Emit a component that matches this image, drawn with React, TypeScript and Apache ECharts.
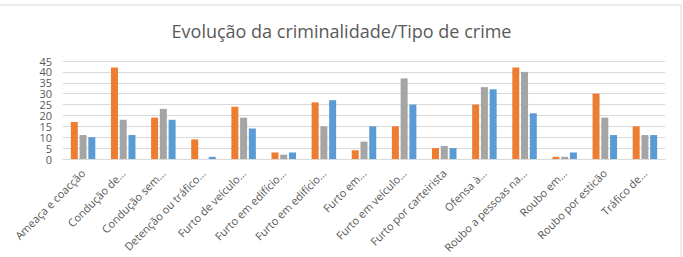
import React, { useEffect, useRef } from "react";
import * as echarts from "echarts";

const categories = [
  "Ameaça e coacção",
  "Condução de...",
  "Condução sem...",
  "Detenção ou tráfico...",
  "Furto de veículo...",
  "Furto em edifício...",
  "Furto em edifício...",
  "Furto em...",
  "Furto em veículo...",
  "Furto por carteirista",
  "Ofensa à...",
  "Roubo a pessoas na...",
  "Roubo em...",
  "Roubo por esticão",
  "Tráfico de...",
];

const seriesA = [17, 42, 19, 9, 24, 3, 26, 4, 15, 5, 25, 42, 1, 30, 15];
const seriesB = [11, 18, 23, 0, 19, 2, 15, 8, 37, 6, 33, 40, 1, 19, 11];
const seriesC = [10, 11, 18, 1, 14, 3, 27, 15, 25, 5, 32, 21, 3, 11, 11];

const yTicks = { min: 0, max: 45, interval: 5 };

const colors = ["#ED7D31", "#A5A5A5", "#5B9BD5"];
const FONT = "'Open Sans', sans-serif";

export default function App() {
  const ref = useRef<HTMLDivElement>(null);
  useEffect(() => {
    if (!ref.current) return;
    const chart = echarts.init(ref.current, undefined, { renderer: "svg" });
    const mk = (data: number[], i: number) => ({
      type: "bar",
      data,
      barWidth: 7,
      barGap: "25%",
      itemStyle: { color: colors[i] },
    });
    chart.setOption({
      animation: false,
      backgroundColor: "#ffffff",
      title: {
        text: "Evolução da criminalidade/Tipo de crime",
        left: "center",
        top: 17,
        textStyle: {
          fontFamily: FONT,
          fontSize: 18,
          fontWeight: "normal",
          color: "#595959",
        },
      },
      graphic: [
        {
          type: "rect",
          shape: { x: -2, y: 5, width: 683, height: 260 },
          style: { fill: "none", stroke: "#d9d9d9", lineWidth: 1 },
          silent: true,
        },
      ],
      grid: {
        left: 63,
        right: 18,
        top: 61,
        bottom: 98,
        containLabel: false,
        outerBoundsMode: "none",
      },
      xAxis: {
        type: "category",
        data: categories,
        axisLine: { lineStyle: { color: "#d9d9d9" } },
        axisTick: { show: false },
        axisLabel: {
          interval: 0,
          rotate: 45,
          margin: 12,
          fontFamily: FONT,
          fontSize: 11,
          color: "#595959",
        },
      },
      yAxis: {
        type: "value",
        min: yTicks.min,
        max: yTicks.max,
        interval: yTicks.interval,
        axisLine: { show: false },
        axisTick: { show: false },
        splitLine: { lineStyle: { color: "#d9d9d9" } },
        axisLabel: {
          fontFamily: FONT,
          fontSize: 11,
          color: "#595959",
          margin: 11,
          showMinLabel: true,
          showMaxLabel: true,
        },
      },
      series: [mk(seriesA, 0), mk(seriesB, 1), mk(seriesC, 2)],
    });
    return () => chart.dispose();
  }, []);
  return (
    <div
      ref={ref}
      style={{ position: "absolute", left: 0, top: 0, width: 683, height: 257 }}
    />
  );
}
